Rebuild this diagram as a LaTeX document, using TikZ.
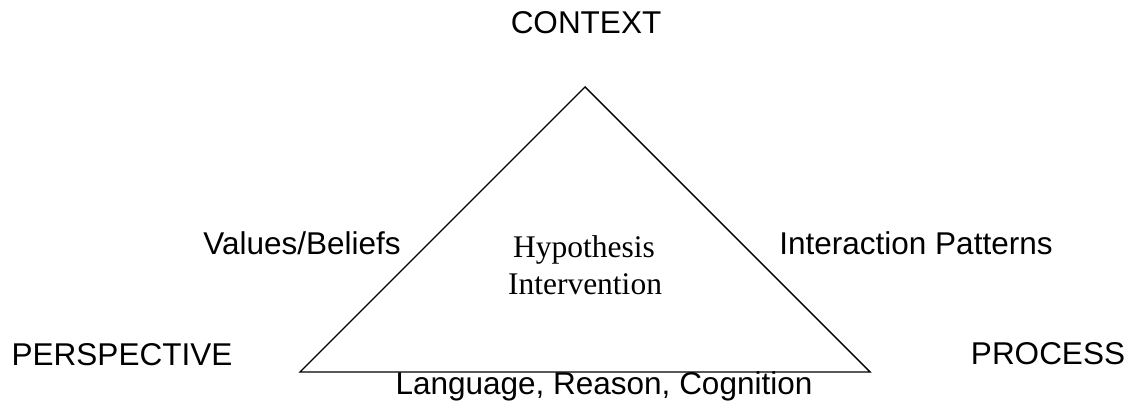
\documentclass[tikz,border=0pt]{standalone}
\usepackage{fontspec}
\setmainfont{Liberation Serif}
\setsansfont{Liberation Sans}
\begin{document}
\begin{tikzpicture}[x=1pt,y=-1pt,
  lab/.style={font=\sffamily\fontsize{31.5}{37}\selectfont, anchor=base, inner sep=0pt},
  inner/.style={font=\rmfamily\fontsize{31.5}{37}\selectfont, anchor=base, inner sep=0pt},
  edge/.style={line width=1.4pt, line join=miter}]
\useasboundingbox (0,0) rectangle (1133,411);
\coordinate (apex) at (585,87);
\coordinate (bl) at (300,372);
\coordinate (br) at (870,372);
\draw[edge] (apex) -- (bl) -- (br) -- cycle;
\node[lab] (context) at (586,34) {CONTEXT};
\node[lab] (values) at (302,255) {Values/Beliefs};
\node[lab] (interaction) at (916,255) {Interaction Patterns};
\node[lab] (perspective) at (122,366) {PERSPECTIVE};
\node[lab] (process) at (1048,365) {PROCESS};
\node[lab] (language) at (604,395) {Language, Reason, Cognition};
\node[inner] (hyp) at (584,258) {Hypothesis};
\node[inner] (int) at (585,295) {Intervention};
\end{tikzpicture}
\end{document}
